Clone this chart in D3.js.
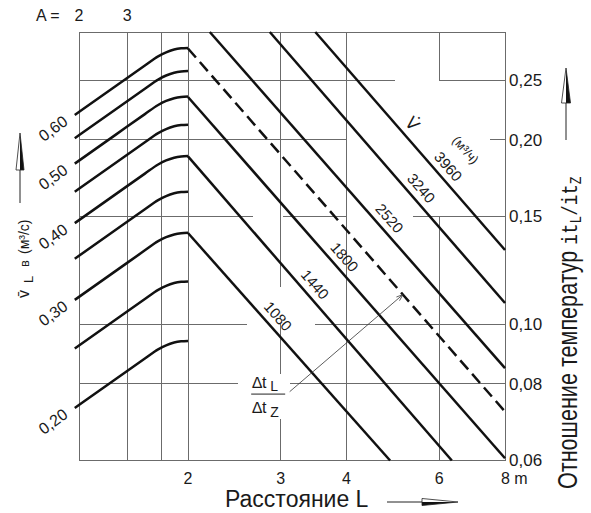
<!DOCTYPE html>
<html>
<head>
<meta charset="utf-8">
<script src="https://cdn.jsdelivr.net/npm/d3@7"></script>
<style>
  body { margin: 0; background: #fff; }
  text { font-family: "Liberation Sans", Arial, sans-serif; fill: #1a1a1a; }
  .mono { font-family: "Liberation Mono", "DejaVu Sans Mono", monospace; }
</style>
</head>
<body>
<script>
// right axis: temperature ratio
var ratioTicks = [0.06, 0.08, 0.10, 0.15, 0.20, 0.25];
var ratioLabels = ["0,06", "0,08", "0,10", "0,15", "0,20", "0,25"];

// bottom axis: distance L (m)
var distTicks = [2, 3, 4, 6, 8];
var distLabels = ["2", "3", "4", "6", "8 m"];

// top-left axis: A
var aTicks = [2, 3, 4, 5];
var aLabelTicks = [2, 3];

// left axis: V_L (m3/s), one curve per value
var vlValues = [0.20, 0.25, 0.30, 0.35, 0.40, 0.45, 0.50, 0.55, 0.60];
var vlLabelValues = [0.20, 0.30, 0.40, 0.50, 0.60];
var vlLabels = ["0,20", "0,30", "0,40", "0,50", "0,60"];

// shape of the left curves: A position and gain on V_L
var curveA = [1.93, 2.75, 3.48, 3.89, 4.16, 4.45, 4.72, 5.0];
var curveGain = [1.0, 1.118, 1.204, 1.246, 1.265, 1.278, 1.284, 1.286];

// flow lines V (m3/h) in the right panel: [L, ratio] ends
var flowLabels = ["1080", "1440", "1800", "", "2520", "3240", "3960"];
var flowStart = [[2, 0.141], [2, 0.188], [2, 0.235], [2, 0.282], [2.20, 0.30], [2.86, 0.30], [3.49, 0.30]];
var flowEnd = [[4.84, 0.06], [6.34, 0.06], [8, 0.0605], [8, 0.0721], [8, 0.0849], [8, 0.1084], [8, 0.1323]];
var flowDashed = [false, false, false, true, false, false, false];
var flowLabelAt = [2.85, 3.35, 3.81, 0, 4.64, 5.33, 6.0];

// grid of the right panel (pieces as drawn in the original)
var gridRows = [0.30, 0.25, 0.20, 0.15, 0.10, 0.08, 0.06];
var gridRowSpans = [[[2, 8]], [[2, 4.95], [6, 8]], [[2, 4], [7.5, 8]], [[2, 2.66], [3.03, 4], [5.35, 8]],
                    [[2, 2.59], [3.49, 8]], [[2, 2.49], [3.13, 8]], [[2, 8]]];
var gridCols = [2, 3, 4, 6, 8];
var gridColSpans = [[[0.06, 0.30]], [[0.06, 0.07], [0.083, 0.10], [0.115, 0.30]], [[0.06, 0.30]],
                    [[0.06, 0.15], [0.25, 0.30]], [[0.06, 0.30]]];

// pointer from the delta-t label onto the dashed line
var pointerFrom = [3.12, 0.0777];
var pointerTo = [5.12, 0.1119];

var width = 591, height = 513;

var svg = d3.select("body").append("svg")
    .attr("width", width)
    .attr("height", height);

var xA = d3.scaleLog().domain([2, 5]).range([79, 188]);
var xL = d3.scaleLog().domain([2, 8]).range([188, 505]);
var yR = d3.scaleLog().domain([0.06, 0.30]).range([460.5, 32]);
var yV = d3.scaleLog().domain([0.20, 0.60]).range([408, 115]);

// ---- grid
var grid = svg.append("g")
    .attr("stroke", "#6b6b6b")
    .attr("stroke-width", 1)
    .attr("shape-rendering", "crispEdges");

gridRows.forEach(function(r) {
  grid.append("line")
      .attr("x1", xA(2)).attr("x2", xA(5))
      .attr("y1", yR(r)).attr("y2", yR(r));
});
aTicks.forEach(function(a) {
  grid.append("line")
      .attr("x1", xA(a)).attr("x2", xA(a))
      .attr("y1", yR(0.06)).attr("y2", yR(0.30));
});
gridRows.forEach(function(r, i) {
  gridRowSpans[i].forEach(function(s) {
    grid.append("line")
        .attr("x1", xL(s[0])).attr("x2", xL(s[1]))
        .attr("y1", yR(r)).attr("y2", yR(r));
  });
});
gridCols.forEach(function(l, i) {
  gridColSpans[i].forEach(function(s) {
    grid.append("line")
        .attr("x1", xL(l)).attr("x2", xL(l))
        .attr("y1", yR(s[0])).attr("y2", yR(s[1]));
  });
});

// ---- left curves
var curveLine = d3.line()
    .x(function(d) { return xA(d[0]); })
    .y(function(d) { return yV(d[1]); })
    .curve(d3.curveMonotoneX);

svg.append("g").selectAll("path")
    .data(vlValues)
    .enter()
    .append("path")
    .attr("d", function(v) {
      return curveLine(curveA.map(function(a, i) { return [a, v * curveGain[i]]; }));
    })
    .attr("fill", "none")
    .attr("stroke", "#111")
    .attr("stroke-width", 2.5);

// ---- flow lines
var flows = flowLabels.map(function(lab, i) {
  return { label: lab, p0: flowStart[i], p1: flowEnd[i], dashed: flowDashed[i], at: flowLabelAt[i] };
});

svg.append("g").selectAll("line")
    .data(flows)
    .enter()
    .append("line")
    .attr("x1", function(d) { return xL(d.p0[0]); })
    .attr("y1", function(d) { return yR(d.p0[1]); })
    .attr("x2", function(d) { return xL(d.p1[0]); })
    .attr("y2", function(d) { return yR(d.p1[1]); })
    .attr("stroke", "#111")
    .attr("stroke-width", 2.5)
    .attr("stroke-dasharray", function(d) { return d.dashed ? "12,6" : null; });

function alongLine(d, lval, offset) {
  var x1 = xL(d.p0[0]), y1 = yR(d.p0[1]), x2 = xL(d.p1[0]), y2 = yR(d.p1[1]);
  var ang = Math.atan2(y2 - y1, x2 - x1);
  var x = xL(lval);
  var y = y1 + (x - x1) * (y2 - y1) / (x2 - x1);
  return { x: x + Math.sin(ang) * offset, y: y - Math.cos(ang) * offset, deg: ang * 180 / Math.PI };
}

svg.append("g").selectAll("text")
    .data(flows.filter(function(d) { return d.label; }))
    .enter()
    .append("text")
    .attr("transform", function(d) {
      var p = alongLine(d, d.at, 12);
      return "translate(" + p.x + "," + p.y + ")rotate(" + p.deg + ")";
    })
    .attr("text-anchor", "middle")
    .attr("dy", "0.35em")
    .style("font-size", "15px")
    .text(function(d) { return d.label; });

// V-dot and unit next to the top line
var topFlow = flows[flows.length - 1];
var pv = alongLine(topFlow, 5.11, 13);
svg.append("text")
    .attr("transform", "translate(" + pv.x + "," + pv.y + ")rotate(" + pv.deg + ")")
    .attr("text-anchor", "middle")
    .attr("dy", "0.35em")
    .style("font-family", "'DejaVu Sans', sans-serif")
    .style("font-size", "17px")
    .text("V\u0307");
var pu = alongLine(topFlow, 5.98, 36);
svg.append("text")
    .attr("transform", "translate(" + pu.x + "," + pu.y + ")rotate(" + pu.deg + ")")
    .attr("text-anchor", "middle")
    .attr("dy", "0.35em")
    .style("font-size", "13px")
    .text("(м³/ч)");

// ---- pointer and delta-t fraction
var px1 = xL(pointerFrom[0]), py1 = yR(pointerFrom[1]);
var px2 = xL(pointerTo[0]), py2 = yR(pointerTo[1]);
svg.append("line")
    .attr("x1", px1).attr("y1", py1).attr("x2", px2).attr("y2", py2)
    .attr("stroke", "#333").attr("stroke-width", 0.8);
var pang = Math.atan2(py2 - py1, px2 - px1);
svg.append("path")
    .attr("d", "M" + (px2 - 7 * Math.cos(pang - 0.35)) + "," + (py2 - 7 * Math.sin(pang - 0.35)) +
               "L" + px2 + "," + py2 +
               "L" + (px2 - 7 * Math.cos(pang + 0.35)) + "," + (py2 - 7 * Math.sin(pang + 0.35)))
    .attr("fill", "none").attr("stroke", "#333").attr("stroke-width", 0.8);

var frac = svg.append("g")
    .attr("transform", "translate(" + xL(2.84) + "," + yR(0.077) + ")");
frac.append("line")
    .attr("x1", -17).attr("x2", 17).attr("y1", 0).attr("y2", 0)
    .attr("stroke", "#222").attr("stroke-width", 1);
var tTop = frac.append("text").attr("x", -16).attr("y", -6).style("font-size", "16px");
tTop.append("tspan").text("\u2206t");
tTop.append("tspan").attr("dy", 3).style("font-size", "14px").text(" L");
var tBot = frac.append("text").attr("x", -16).attr("y", 19).style("font-size", "16px");
tBot.append("tspan").text("\u2206t");
tBot.append("tspan").attr("dy", 4).style("font-size", "14px").text(" Z");

// ---- tick labels
svg.append("g").selectAll("text")
    .data(ratioTicks)
    .enter()
    .append("text")
    .attr("x", 509)
    .attr("y", function(d) { return yR(d); })
    .attr("dy", "0.35em")
    .style("font-size", "17px")
    .text(function(d, i) { return ratioLabels[i]; });

svg.append("g").selectAll("text")
    .data(distTicks)
    .enter()
    .append("text")
    .attr("x", function(d) { return xL(d); })
    .attr("y", 484)
    .attr("text-anchor", function(d, i) { return i === distTicks.length - 1 ? "start" : "middle"; })
    .attr("dx", function(d, i) { return i === distTicks.length - 1 ? -4 : 0; })
    .style("font-size", "16px")
    .text(function(d, i) { return distLabels[i]; });

svg.append("text").attr("x", 36).attr("y", 21).style("font-size", "16px").text("A =");
svg.append("g").selectAll("text")
    .data(aLabelTicks)
    .enter()
    .append("text")
    .attr("x", function(d) { return xA(d); })
    .attr("y", 21)
    .attr("text-anchor", "middle")
    .style("font-size", "16px")
    .text(function(d) { return d; });

svg.append("g").selectAll("text")
    .data(vlLabelValues)
    .enter()
    .append("text")
    .attr("transform", function(d) { return "translate(53," + (yV(d) + 13.5) + ")rotate(-36)"; })
    .attr("text-anchor", "middle")
    .attr("dy", "0.35em")
    .style("font-size", "16px")
    .text(function(d, i) { return vlLabels[i]; });

// ---- axis titles
svg.append("text")
    .attr("x", 225)
    .attr("y", 507)
    .style("font-size", "23px")
    .text("Расстояние L");

var leftTitle = svg.append("text")
    .attr("transform", "translate(29,298)rotate(-90)")
    .style("font-size", "16px");
leftTitle.append("tspan").attr("x", 0).text("v\u0304");
leftTitle.append("tspan").attr("x", 15).attr("dy", 4).style("font-size", "13px").text("L");
leftTitle.append("tspan").attr("x", 31).attr("dy", -4).style("font-size", "13px").text("в");
leftTitle.append("tspan").attr("x", 44).style("font-size", "14px").text("(м³/с)");

var rightTitle = svg.append("text")
    .attr("transform", "translate(577,489)rotate(-90)scale(0.8,1)")
    .style("font-size", "27px");
rightTitle.append("tspan").text("Отношение температур ");
rightTitle.append("tspan").attr("class", "mono").style("font-size", "22px").text("it");
rightTitle.append("tspan").attr("class", "mono").attr("dy", 4).style("font-size", "16px").text("L");
rightTitle.append("tspan").attr("class", "mono").attr("dy", -4).style("font-size", "22px").text("/it");
rightTitle.append("tspan").attr("class", "mono").attr("dy", 4).style("font-size", "16px").text("Z");

// ---- half-filled arrows
function arrowUp(cx, yTip, yBase, yTail, half) {
  var g = svg.append("g");
  g.append("line").attr("x1", cx).attr("x2", cx).attr("y1", yBase).attr("y2", yTail)
      .attr("stroke", "#222").attr("stroke-width", 1);
  g.append("path").attr("d", "M" + cx + "," + yTip + "L" + (cx + half) + "," + yBase + "L" + cx + "," + yBase + "Z")
      .attr("fill", "#111");
  g.append("path").attr("d", "M" + cx + "," + yTip + "L" + (cx + half) + "," + yBase + "L" + (cx - half) + "," + yBase + "Z")
      .attr("fill", "none").attr("stroke", "#222").attr("stroke-width", 0.8);
}
arrowUp(20, 133, 170, 203, 4);
arrowUp(566, 68, 103, 140, 4.5);

var ba = svg.append("g");
ba.append("line").attr("x1", 387).attr("x2", 422).attr("y1", 502).attr("y2", 502)
    .attr("stroke", "#222").attr("stroke-width", 1);
ba.append("path").attr("d", "M458,502L422,505.5L422,502Z").attr("fill", "#111");
ba.append("path").attr("d", "M458,502L422,505.5L422,498.5Z")
    .attr("fill", "none").attr("stroke", "#222").attr("stroke-width", 0.8);
</script>
</body>
</html>
